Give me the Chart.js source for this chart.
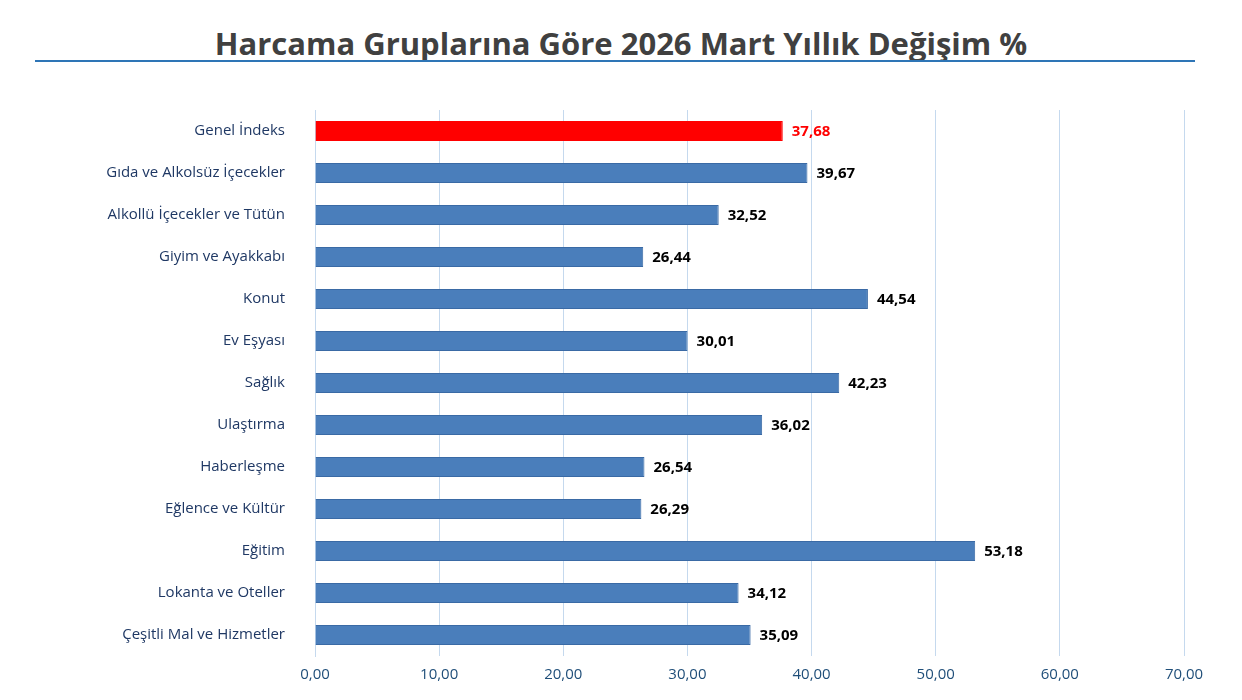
<!DOCTYPE html>
<html><head><meta charset="utf-8">
<script src="https://cdn.jsdelivr.net/npm/chart.js@4"></script>
<style>
body{margin:0;background:#fff;width:1242px;height:700px;overflow:hidden;position:relative;font-family:"Open Sans",sans-serif}
#t{position:absolute;top:22px;left:0;width:1242px;text-align:center;font:bold 31px "Open Sans",sans-serif;color:#404040}
#l{position:absolute;top:60px;left:35px;width:1160px;height:2px;background:#2e75b6}
#c{position:absolute;left:0;top:0}
</style></head><body>
<div id="t">Harcama Gruplarına Göre 2026 Mart Yıllık Değişim %</div>
<div id="l"></div>
<canvas id="c" width="1242" height="700"></canvas>
<script>
const categories=["Genel İndeks","Gıda ve Alkolsüz İçecekler","Alkollü İçecekler ve Tütün","Giyim ve Ayakkabı","Konut","Ev Eşyası","Sağlık","Ulaştırma","Haberleşme","Eğlence ve Kültür","Eğitim","Lokanta ve Oteller","Çeşitli Mal ve Hizmetler"];
const values=[37.68,39.67,32.52,26.44,44.54,30.01,42.23,36.02,26.54,26.29,53.18,34.12,35.09];
const fmt=v=>v.toFixed(2).replace('.',',');
const labelPlugin={id:'lbl',afterDatasetsDraw(ch){const ctx=ch.ctx;const m=ch.getDatasetMeta(0);ctx.save();ctx.font='bold 15px "Open Sans",sans-serif';ctx.textBaseline='middle';
m.data.forEach((b,i)=>{ctx.fillStyle=i===0?'#ff0000':'#000';ctx.fillText(fmt(values[i]),b.x+9,b.y+1);});ctx.restore();}};
new Chart(document.getElementById('c'),{type:'bar',
data:{labels:categories,datasets:[{data:values,backgroundColor:values.map((v,i)=>i===0?'#ff0000':'#4a7ebb'),borderColor:values.map((v,i)=>i===0?'#ff0000':'#3a6aa5'),borderWidth:1,barPercentage:0.48,categoryPercentage:1}]},
options:{indexAxis:'y',responsive:false,animation:false,
layout:{padding:{top:110,right:58,bottom:6,left:0}},
plugins:{legend:{display:false},tooltip:{enabled:false}},
scales:{x:{min:0,max:70,ticks:{stepSize:10,callback:v=>fmt(v),color:'#1f4e79',font:{size:15,family:'"Open Sans",sans-serif'},padding:10},grid:{color:'#c5d9ee',drawTicks:false},border:{display:false}},
y:{afterFit:s=>{s.width=315},ticks:{color:'#1f3864',font:{size:15,family:'"Open Sans",sans-serif'},padding:22},grid:{display:false},border:{color:'#c5d9ee'}}}},
plugins:[labelPlugin]});
</script></body></html>
